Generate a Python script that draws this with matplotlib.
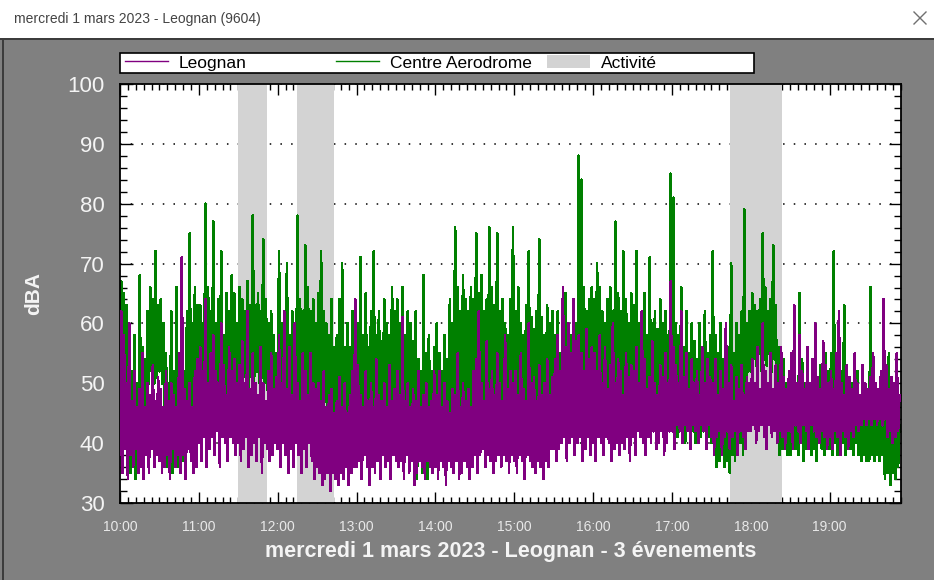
import numpy as np
from matplotlib import pyplot as plt
from matplotlib.patches import Rectangle, Patch
from matplotlib.lines import Line2D
from matplotlib.ticker import MultipleLocator

W, H = 934, 580
plt.rcParams['font.family'] = ['Liberation Sans', 'DejaVu Sans']

# niveaux dBA, un point par minute a partir de 10:00 (une ligne = 30 min)
leognan = [
    38, 62, 35, 58, 39, 50, 34, 60, 38, 47, 36, 52, 39, 46, 35, 49, 36, 55, 34, 46, 38, 50, 35, 48, 39, 53, 36, 47, 38, 51,
    37, 49, 35, 46, 36, 52, 38, 47, 34, 50, 39, 48, 36, 46, 38, 55, 35, 71, 38, 49, 34, 47, 39, 50, 37, 46, 35, 52, 36, 54,
    40, 56, 37, 52, 41, 64, 36, 50, 39, 55, 41, 58, 38, 52, 42, 50, 36, 60, 41, 53, 40, 48, 37, 56, 41, 52, 40, 54, 38, 50,
    40, 53, 37, 57, 39, 50, 41, 62, 36, 49, 38, 55, 40, 50, 37, 48, 41, 56, 35, 50, 40, 47, 39, 52, 37, 55, 38, 49, 40, 51,
    39, 58, 36, 50, 40, 62, 38, 49, 35, 56, 39, 48, 36, 60, 40, 50, 38, 47, 35, 55, 39, 52, 36, 48, 40, 55, 37, 50, 34, 49,
    36, 50, 35, 47, 33, 52, 34, 46, 35, 48, 32, 49, 35, 45, 34, 47, 33, 51, 35, 46, 34, 50, 36, 45, 33, 48, 35, 52, 36, 64,
    36, 53, 37, 48, 34, 46, 38, 52, 36, 47, 33, 50, 36, 46, 35, 54, 37, 48, 34, 47, 38, 50, 36, 46, 37, 53, 34, 47, 38, 49,
    37, 52, 36, 48, 37, 61, 34, 47, 38, 50, 35, 46, 37, 49, 33, 47, 35, 52, 37, 46, 36, 48, 34, 50, 37, 46, 36, 47, 35, 52,
    36, 48, 34, 52, 37, 46, 36, 50, 33, 47, 37, 45, 36, 49, 35, 48, 37, 55, 34, 46, 35, 50, 37, 47, 36, 49, 34, 46, 36, 52,
    38, 54, 35, 62, 38, 50, 39, 47, 36, 57, 38, 49, 37, 52, 35, 48, 37, 55, 38, 50, 36, 47, 38, 58, 37, 49, 35, 52, 38, 50,
    37, 52, 35, 48, 38, 55, 37, 49, 34, 47, 38, 60, 37, 50, 36, 51, 35, 47, 37, 53, 36, 48, 34, 50, 37, 54, 36, 48, 39, 51,
    39, 54, 37, 58, 39, 52, 40, 66, 41, 56, 37, 60, 40, 55, 41, 64, 38, 57, 40, 58, 41, 55, 37, 52, 39, 59, 41, 54, 38, 56,
    40, 55, 37, 52, 41, 58, 40, 50, 38, 56, 41, 49, 40, 53, 37, 60, 39, 50, 40, 54, 38, 52, 40, 48, 39, 55, 41, 51, 37, 53,
    41, 52, 38, 56, 42, 50, 41, 62, 40, 54, 38, 49, 41, 51, 40, 57, 42, 50, 39, 48, 40, 53, 42, 51, 38, 55, 40, 50, 42, 67,
    42, 56, 39, 53, 43, 50, 42, 62, 40, 51, 43, 55, 42, 49, 39, 54, 43, 50, 42, 52, 40, 48, 43, 56, 42, 50, 39, 54, 43, 51,
    41, 50, 38, 54, 41, 48, 42, 52, 38, 49, 41, 60, 42, 50, 39, 53, 41, 47, 42, 51, 38, 49, 42, 53, 41, 48, 39, 51, 42, 50,
    42, 54, 43, 50, 40, 56, 42, 49, 43, 60, 41, 52, 39, 50, 43, 55, 41, 49, 42, 53, 40, 50, 42, 56, 41, 51, 39, 49, 42, 52,
    42, 55, 39, 63, 43, 50, 42, 58, 40, 52, 43, 49, 42, 56, 39, 50, 43, 54, 42, 60, 41, 51, 40, 49, 42, 57, 41, 53, 39, 50,
    41, 52, 39, 49, 42, 55, 41, 62, 38, 50, 42, 48, 41, 53, 39, 51, 42, 49, 41, 55, 43, 50, 42, 48, 43, 53, 44, 50, 43, 49,
    44, 51, 43, 55, 44, 50, 43, 49, 44, 52, 43, 64, 44, 53, 41, 49, 42, 51, 40, 50, 41, 55, 42, 48,
]
centre_aerodrome = [
    40, 67, 42, 65, 44, 63, 38, 55, 35, 52, 37, 58, 34, 50, 36, 68, 38, 56, 37, 54, 48, 62, 50, 66, 52, 64, 50, 72, 51, 63,
    52, 64, 50, 60, 38, 55, 36, 50, 39, 62, 35, 52, 38, 66, 36, 54, 40, 58, 37, 52, 44, 62, 45, 75, 43, 60, 46, 66, 44, 63,
    45, 63, 46, 60, 47, 80, 44, 66, 46, 62, 47, 77, 45, 60, 48, 64, 46, 72, 47, 58, 45, 65, 46, 62, 48, 68, 46, 65, 47, 60,
    50, 66, 49, 64, 51, 62, 50, 67, 49, 63, 51, 78, 50, 63, 52, 65, 50, 62, 51, 74, 50, 64, 49, 60, 44, 62, 41, 58, 42, 55,
    42, 72, 40, 60, 43, 56, 44, 70, 41, 58, 40, 62, 43, 55, 44, 78, 46, 64, 45, 62, 44, 73, 47, 66, 45, 62, 46, 64, 47, 60,
    46, 65, 47, 72, 43, 62, 47, 60, 45, 58, 46, 64, 41, 56, 40, 58, 42, 64, 40, 70, 43, 56, 41, 60, 42, 56, 40, 62, 43, 58,
    42, 60, 40, 71, 43, 58, 44, 65, 42, 56, 45, 62, 43, 72, 44, 58, 42, 62, 45, 57, 43, 64, 44, 60, 42, 58, 45, 66, 43, 62,
    44, 64, 45, 60, 43, 66, 44, 58, 45, 62, 43, 60, 44, 57, 38, 62, 34, 54, 39, 52, 35, 68, 38, 55, 34, 58, 40, 52, 37, 56,
    38, 60, 35, 55, 40, 52, 36, 58, 38, 54, 45, 64, 44, 60, 46, 76, 47, 66, 44, 62, 46, 68, 45, 64, 47, 62, 44, 66, 46, 64,
    47, 75, 45, 65, 46, 68, 47, 62, 45, 64, 46, 76, 48, 66, 45, 63, 47, 75, 46, 62, 44, 64, 43, 60, 45, 58, 44, 64, 43, 76,
    44, 62, 43, 66, 45, 60, 42, 58, 44, 63, 46, 72, 43, 61, 45, 59, 44, 62, 46, 74, 43, 61, 45, 58, 44, 63, 42, 60, 44, 62,
    42, 58, 41, 62, 40, 55, 42, 60, 41, 65, 43, 56, 40, 58, 42, 54, 41, 60, 43, 88, 46, 84, 47, 66, 45, 62, 46, 64, 47, 66,
    46, 64, 47, 70, 45, 66, 48, 62, 46, 60, 47, 64, 45, 66, 46, 62, 48, 77, 47, 65, 45, 62, 46, 72, 47, 64, 45, 60, 46, 65,
    45, 63, 44, 72, 46, 60, 45, 62, 47, 65, 45, 58, 46, 71, 44, 60, 45, 62, 46, 59, 44, 64, 45, 60, 46, 62, 44, 58, 45, 85,
    43, 81, 42, 60, 41, 58, 44, 66, 42, 56, 40, 62, 43, 55, 41, 60, 42, 57, 40, 54, 43, 60, 41, 56, 42, 62, 40, 55, 41, 58,
    40, 72, 38, 58, 36, 55, 37, 60, 38, 54, 36, 52, 37, 56, 35, 70, 38, 55, 37, 60, 39, 58, 40, 62, 38, 79, 40, 60, 52, 62,
    52, 65, 54, 63, 53, 62, 55, 64, 52, 75, 54, 66, 53, 62, 55, 64, 52, 73, 54, 63, 40, 56, 38, 52, 39, 54, 40, 50, 38, 52,
    38, 55, 40, 52, 39, 50, 38, 65, 40, 54, 37, 50, 39, 56, 40, 48, 38, 52, 39, 54, 37, 50, 40, 53, 39, 49, 38, 55, 40, 52,
    39, 55, 38, 72, 40, 50, 38, 54, 39, 52, 40, 63, 38, 52, 40, 48, 39, 50, 38, 46, 40, 52, 38, 44, 37, 46, 38, 44, 37, 45,
    37, 66, 38, 44, 37, 45, 38, 44, 37, 46, 38, 45, 34, 48, 35, 55, 33, 46, 35, 44, 34, 47, 36, 43,
]

# periodes d'activite (heures decimales)
activite_debut = [11.50, 12.25, 17.74]
activite_fin = [11.87, 12.71, 18.39]

heures = [10, 11, 12, 13, 14, 15, 16, 17, 18, 19]
heures_labels = ["10:00", "11:00", "12:00", "13:00", "14:00",
                 "15:00", "16:00", "17:00", "18:00", "19:00"]

t_leo = 10 + np.arange(len(leognan)) / 60
t_ctr = 10 + np.arange(len(centre_aerodrome)) / 60

fig = plt.figure(figsize=(W / 100, H / 100), dpi=100, facecolor='#808080')

# barre de titre de la fenetre
fig.add_artist(Rectangle((0, 1 - 38 / H), 1, 38 / H, transform=fig.transFigure,
                         facecolor='white', edgecolor='none'))
fig.add_artist(Rectangle((0, 1 - 40 / H), 1, 2 / H, transform=fig.transFigure,
                         facecolor='#3c3c3c', edgecolor='none'))
fig.add_artist(Rectangle((2 / W, 0), 2 / W, 1 - 38 / H, transform=fig.transFigure,
                         facecolor='#3c3c3c', edgecolor='none'))
fig.text(14 / W, 1 - 19 / H, "mercredi 1 mars 2023 - Leognan (9604)",
         fontsize=10, color='#444444', va='center', ha='left')
# bouton fermer
for ya, yb in [(12, 24), (24, 12)]:
    fig.add_artist(Line2D([914 / W, 926 / W], [1 - ya / H, 1 - yb / H],
                          transform=fig.transFigure, color='#707070', lw=1))

ax = fig.add_axes([120 / W, 1 - 503 / H, 780.7 / W, 419 / H])
ax.set_facecolor('white')

for d, f in zip(activite_debut, activite_fin):
    ax.axvspan(d, f, color='#d3d3d3', lw=0, zorder=1)

ax.plot(t_ctr, centre_aerodrome, color='green', lw=1.2, antialiased=False, zorder=2)
ax.plot(t_leo, leognan, color='purple', lw=1.2, antialiased=False, zorder=3)

ax.set_xlim(10, 19.9)
ax.set_ylim(30, 100)
ax.set_xticks(heures)
ax.set_xticklabels(heures_labels)
ax.xaxis.set_minor_locator(MultipleLocator(0.1))
ax.yaxis.set_major_locator(MultipleLocator(10))
ax.yaxis.set_minor_locator(MultipleLocator(2))

ax.tick_params(which='both', direction='in', top=True, right=True, color='black')
ax.tick_params(axis='y', which='major', length=9, width=1, labelsize=16,
               labelcolor='#f4f4f4', pad=11)
ax.tick_params(axis='y', which='minor', length=5, width=1)
ax.tick_params(axis='x', which='major', length=8, width=1, labelsize=10,
               labelcolor='#e8e8e8', pad=12)
ax.tick_params(axis='x', which='minor', length=4, width=1)

ax.set_axisbelow(True)
ax.grid(axis='y', which='major', color='black', lw=1.1, linestyle=(0, (1, 6)))
for s in ax.spines.values():
    s.set_color('black')
    s.set_linewidth(1.3)

ax.set_ylabel("dBA", fontsize=15, fontweight='bold', color='#f4f4f4')
ax.yaxis.set_label_coords(-0.099, 0.5)
ax.set_xlabel("mercredi 1 mars 2023 - Leognan - 3 \u00e9venements",
              fontsize=15.5, fontweight='bold', color='#f4f4f4')
ax.xaxis.label.set_va('center')
ax.xaxis.set_label_coords(0.5, -49 / 419)

# legende : cadre commun, une colonne de 211 px par entree
fig.add_artist(Rectangle((120 / W, 1 - 73 / H), 634 / W, 20 / H, transform=fig.transFigure,
                         facecolor='white', edgecolor='black', lw=1.2, zorder=5))
handles = [Line2D([], [], color='purple', lw=1),
           Line2D([], [], color='green', lw=1),
           Patch(facecolor='#d3d3d3', edgecolor='none')]
labels = ["Leognan", "Centre Aerodrome", "Activit\u00e9"]
for i, (h, lab) in enumerate(zip(handles, labels)):
    leg = fig.legend([h], [lab], loc='center left',
                     bbox_to_anchor=((125 + 211 * i) / W, 1 - 63 / H),
                     fontsize=12.5, frameon=False, borderpad=0, borderaxespad=0,
                     handlelength=2.5, handletextpad=0.6, handleheight=0.8)
    leg.set_zorder(6)

fig.savefig("out.png", dpi=100, facecolor=fig.get_facecolor())
